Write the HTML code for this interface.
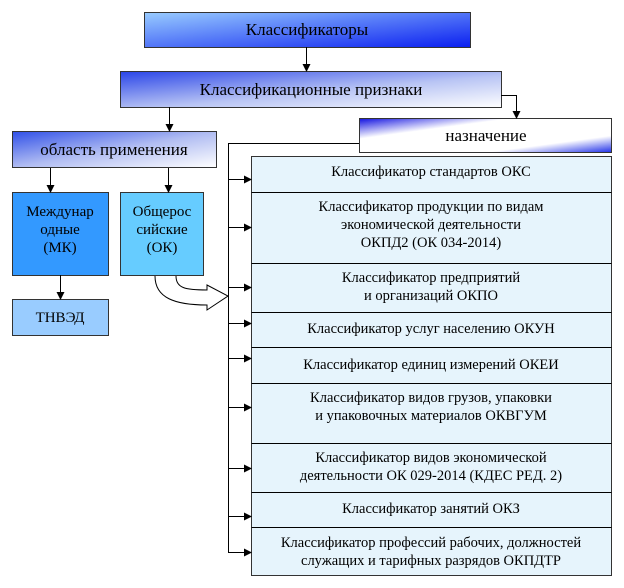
<!DOCTYPE html>
<html><head><meta charset="utf-8"><style>
body{margin:0;background:#fff}
svg{display:block}
svg text{font-family:"Liberation Serif","DejaVu Serif","Noto Serif CJK SC",serif;fill:#000}
</style></head><body>
<svg width="624" height="588" viewBox="0 0 624 588" xmlns="http://www.w3.org/2000/svg">
<defs>
<linearGradient id="g1" x1="0" y1="0" x2="1" y2="1"><stop offset="0" stop-color="#99ccff"/><stop offset="1" stop-color="#0a1ef0"/></linearGradient>
<linearGradient id="g2" x1="0" y1="0" x2="1" y2="1"><stop offset="0" stop-color="#2a45e8"/><stop offset="0.55" stop-color="#b8c4f4"/><stop offset="1" stop-color="#ffffff"/></linearGradient>
<linearGradient id="g3" x1="0" y1="0" x2="1" y2="1"><stop offset="0" stop-color="#1010e0"/><stop offset="0.3" stop-color="#ffffff"/><stop offset="0.75" stop-color="#ffffff"/><stop offset="1" stop-color="#2030e8"/></linearGradient>
<linearGradient id="g4" x1="0" y1="0" x2="1" y2="1"><stop offset="0" stop-color="#3050e8"/><stop offset="0.5" stop-color="#b0bcf2"/><stop offset="1" stop-color="#ffffff"/></linearGradient>
<marker id="a" markerWidth="8" markerHeight="8" refX="7" refY="4" orient="auto" markerUnits="userSpaceOnUse"><path d="M0,0 L8,4 L0,8 z" fill="#000"/></marker>
</defs>
<g stroke="#333" stroke-width="1">
<rect x="144.5" y="12.5" width="326" height="35" fill="url(#g1)"/>
<rect x="120.5" y="71.5" width="381" height="36" fill="url(#g2)"/>
<rect x="359.5" y="118.5" width="252" height="34" fill="url(#g3)"/>
<rect x="12.5" y="131.5" width="204" height="36" fill="url(#g4)"/>
<rect x="12.5" y="192.5" width="96" height="83" fill="#3399ff"/>
<rect x="120.5" y="192.5" width="83" height="83" fill="#66ccff"/>
<rect x="12.5" y="299.5" width="96" height="36" fill="#99ccff"/>
<rect x="251.5" y="156.5" width="360" height="419" fill="#e6f4fc"/>
</g>
<g stroke="#000" stroke-width="1" fill="none">
<line x1="251.5" y1="192.5" x2="611.5" y2="192.5"/>
<line x1="251.5" y1="263.5" x2="611.5" y2="263.5"/>
<line x1="251.5" y1="312.5" x2="611.5" y2="312.5"/>
<line x1="251.5" y1="347.5" x2="611.5" y2="347.5"/>
<line x1="251.5" y1="383.5" x2="611.5" y2="383.5"/>
<line x1="251.5" y1="443.5" x2="611.5" y2="443.5"/>
<line x1="251.5" y1="492.5" x2="611.5" y2="492.5"/>
<line x1="251.5" y1="527.5" x2="611.5" y2="527.5"/>
<line x1="306.5" y1="47" x2="306.5" y2="71" marker-end="url(#a)"/>
<polyline points="501,95.5 516.5,95.5 516.5,118" marker-end="url(#a)"/>
<line x1="169.5" y1="107" x2="169.5" y2="131" marker-end="url(#a)"/>
<line x1="50.5" y1="168" x2="50.5" y2="192" marker-end="url(#a)"/>
<line x1="168.5" y1="168" x2="168.5" y2="192" marker-end="url(#a)"/>
<line x1="60.5" y1="275" x2="60.5" y2="299" marker-end="url(#a)"/>
<polyline points="359,143.5 228.5,143.5 228.5,552"/>
<line x1="228" y1="179.5" x2="251" y2="179.5" marker-end="url(#a)"/>
<line x1="228" y1="227.5" x2="251" y2="227.5" marker-end="url(#a)"/>
<line x1="228" y1="287.5" x2="251" y2="287.5" marker-end="url(#a)"/>
<line x1="228" y1="323.5" x2="251" y2="323.5" marker-end="url(#a)"/>
<line x1="228" y1="358.5" x2="251" y2="358.5" marker-end="url(#a)"/>
<line x1="228" y1="407.5" x2="251" y2="407.5" marker-end="url(#a)"/>
<line x1="228" y1="468.5" x2="251" y2="468.5" marker-end="url(#a)"/>
<line x1="228" y1="516.5" x2="251" y2="516.5" marker-end="url(#a)"/>
<line x1="228" y1="552.5" x2="251" y2="552.5" marker-end="url(#a)"/>
<path d="M155,276 C155,298 175,305 207,305 L207,310 L228,296 L207,285 L207,290 C185,290 176,288 176,276" fill="#fff" stroke="#000"/>
</g>
<g font-size="17" text-anchor="middle">
<text x="307" y="35">Классификаторы</text>
<text x="311" y="95">Классификационные признаки</text>
<text x="486" y="141">назначение</text>
<text x="114" y="155">область применения</text>
<text x="60" y="216" font-size="15">Междунар</text>
<text x="60" y="234" font-size="15">одные</text>
<text x="60" y="252" font-size="15">(МК)</text>
<text x="162" y="216" font-size="15">Общерос</text>
<text x="162" y="234" font-size="15">сийские</text>
<text x="162" y="252" font-size="15">(ОК)</text>
<text x="60" y="322" font-size="15">ТНВЭД</text>
</g>
<g font-size="14.5" text-anchor="middle">
<text x="431" y="176">Классификатор стандартов ОКС</text>
<text x="431" y="211">Классификатор продукции по видам</text>
<text x="431" y="229">экономической деятельности</text>
<text x="431" y="247">ОКПД2 (ОК 034-2014)</text>
<text x="431" y="282">Классификатор предприятий</text>
<text x="431" y="300">и организаций ОКПО</text>
<text x="431" y="333">Классификатор услуг населению ОКУН</text>
<text x="431" y="369">Классификатор единиц измерений ОКЕИ</text>
<text x="431" y="402">Классификатор видов грузов, упаковки</text>
<text x="431" y="420">и упаковочных материалов ОКВГУМ</text>
<text x="431" y="462">Классификатор видов экономической</text>
<text x="431" y="480">деятельности ОК 029-2014 (КДЕС РЕД. 2)</text>
<text x="431" y="513">Классификатор занятий ОКЗ</text>
<text x="431" y="547">Классификатор профессий рабочих, должностей</text>
<text x="431" y="565">служащих и тарифных разрядов ОКПДТР</text>
</g>
</svg>
</body></html>
